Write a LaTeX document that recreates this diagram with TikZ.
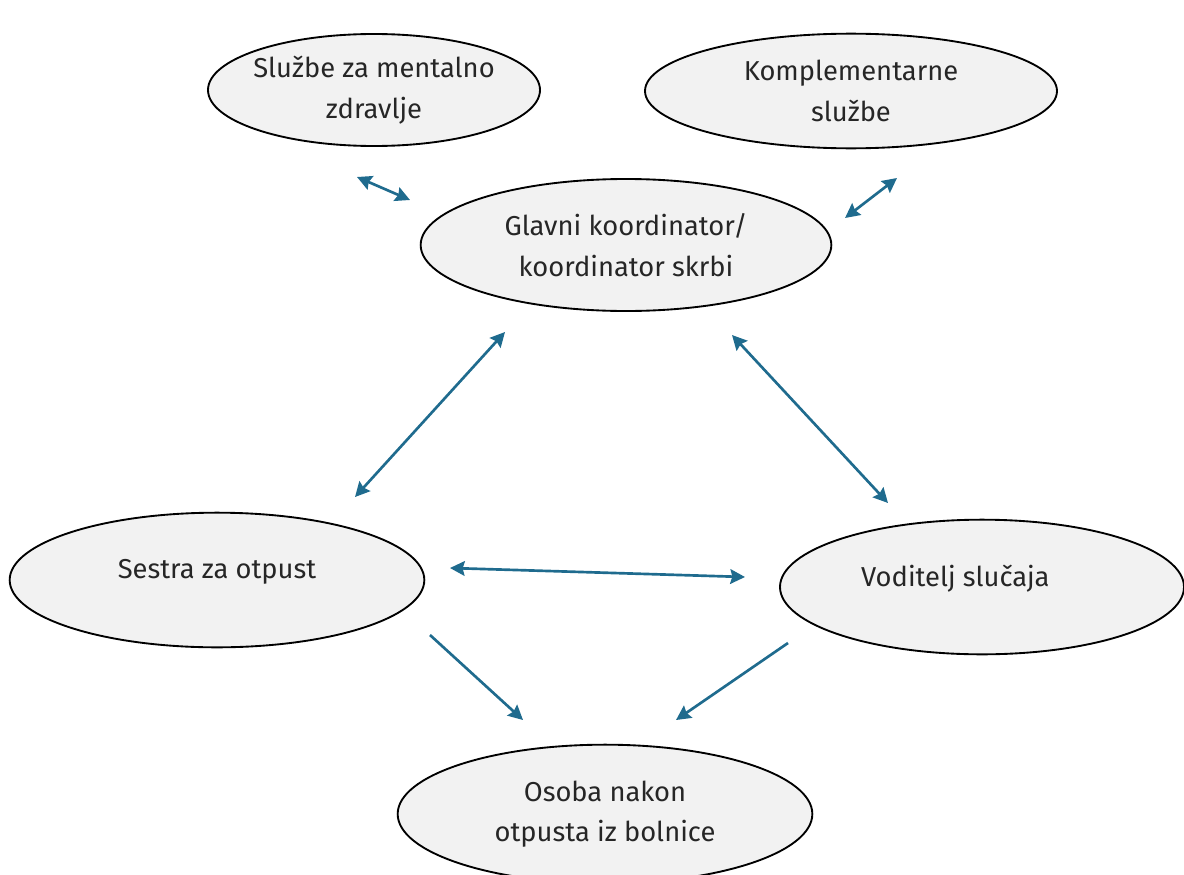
\documentclass[tikz,border=0pt]{standalone}
\usepackage{fontspec}
\setmainfont{Fira Sans}
\usepackage{tikz}
\usetikzlibrary{shapes.geometric,arrows.meta}
\definecolor{strelica}{HTML}{1F6B8E}
\definecolor{pozadina}{HTML}{F2F2F2}
\definecolor{tekst}{HTML}{262626}

\begin{document}
\begin{tikzpicture}[x=0.75pt,y=-0.75pt,
  sluzba/.style={ellipse,draw=black,line width=1.4pt,fill=pozadina,align=center,
    inner sep=0pt,text=tekst,font=\fontsize{20.5}{30.5}\selectfont},
  natpis/.style={text=tekst,font=\fontsize{20.5}{30.5}\selectfont},
  veza/.style={strelica,line width=2pt,
    {Stealth[length=11pt,width=11pt,inset=1.5pt]}-{Stealth[length=11pt,width=11pt,inset=1.5pt]}},
  tok/.style={strelica,line width=2pt,-{Stealth[length=11pt,width=11pt,inset=1.5pt]}}]
\useasboundingbox (0,0) rectangle (1184,874);

\node[sluzba,minimum width=249pt,minimum height=84pt,inner xsep=-4pt] (mental) at (374,90) {Službe za mentalno\\zdravlje};
\node[sluzba,minimum width=309pt,minimum height=86pt] (kompl) at (851,91) {Komplementarne\\službe};
\node[sluzba,minimum width=308pt,minimum height=99pt] (glavni) at (626,245) {Glavni koordinator/\\koordinator skrbi};
\node[sluzba,minimum width=311pt,minimum height=101pt,
  label={[natpis,yshift=6pt]center:Sestra za otpust}] (sestra) at (217,580) {};
\node[sluzba,minimum width=303pt,minimum height=101pt,
  label={[natpis,xshift=-20pt,yshift=6pt]center:Voditelj slučaja}] (voditelj) at (982,587) {};
\node[sluzba,minimum width=311pt,minimum height=104pt] (osoba) at (605,814) {Osoba nakon\\otpusta iz bolnice};

% krajevi strelica
\coordinate (m1) at (357,177);
\coordinate (m2) at (410,200);
\coordinate (k1) at (897,178);
\coordinate (k2) at (845,218);
\coordinate (g1) at (505,332);
\coordinate (s1) at (355,497);
\coordinate (g2) at (732,335);
\coordinate (v1) at (888,503);
\coordinate (s2) at (450,568);
\coordinate (v2) at (745,577);
\coordinate (s3) at (430,635);
\coordinate (o1) at (523,720);
\coordinate (v3) at (788,643);
\coordinate (o2) at (676,720);

\draw[veza] (m1) -- (m2);
\draw[veza] (k1) -- (k2);
\draw[veza] (g1) -- (s1);
\draw[veza] (g2) -- (v1);
\draw[veza] (s2) -- (v2);
\draw[tok] (s3) -- (o1);
\draw[tok] (v3) -- (o2);
\end{tikzpicture}
\end{document}
